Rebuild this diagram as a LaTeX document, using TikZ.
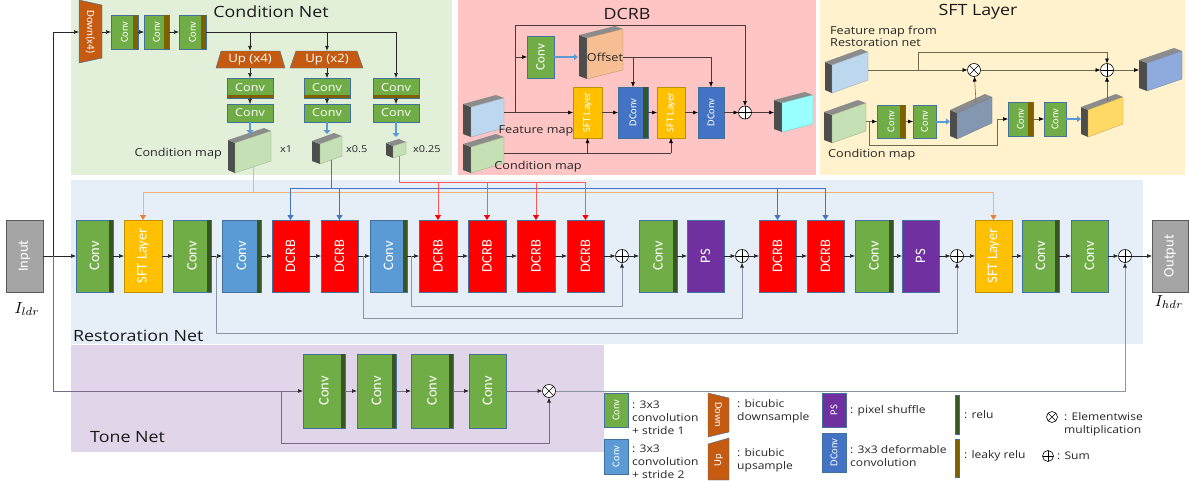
\documentclass[tikz,border=0pt]{standalone}
\usepackage{graphicx}
\usepackage{fontspec}
\setmainfont{Open Sans}[FakeStretch=1.15]
\newfontfamily\bxfont{Carlito}
\usetikzlibrary{arrows.meta}

\definecolor{cgreen}{HTML}{70AD47}
\definecolor{cblue}{HTML}{5B9BD5}
\definecolor{cred}{HTML}{FF0000}
\definecolor{cyel}{HTML}{FFC000}
\definecolor{cpur}{HTML}{7030A0}
\definecolor{cgray}{HTML}{A5A5A5}
\definecolor{cdblue}{HTML}{4472C4}
\definecolor{corange}{HTML}{C55A11}
\definecolor{crelu}{HTML}{375623}
\definecolor{cleaky}{HTML}{7F6000}
\definecolor{bdr}{HTML}{41719C}
\definecolor{bgcond}{HTML}{E2F0D9}
\definecolor{bgdcrb}{HTML}{FFC5C5}
\definecolor{bgsft}{HTML}{FFF2CC}
\definecolor{bgrest}{HTML}{E6EEF8}
\definecolor{bgtone}{HTML}{E1D5E9}
\definecolor{lnc}{HTML}{262626}
\definecolor{skipc}{HTML}{8A96A3}
\definecolor{tonec}{HTML}{7A6A8A}
\definecolor{oline}{HTML}{F4B183}
\definecolor{ohead}{HTML}{ED7D31}
\definecolor{bline}{HTML}{4472C4}
\definecolor{rline}{HTML}{FF5A5A}
\definecolor{slabside}{HTML}{4D4D4D}
\definecolor{slabtopc}{HTML}{8C8C8C}
\definecolor{fblue}{HTML}{BDD7EE}
\definecolor{fgreen}{HTML}{C5E0B4}
\definecolor{fcyan}{HTML}{99FFFF}
\definecolor{foff}{HTML}{F7BE93}
\definecolor{fsft}{HTML}{8FAADC}
\definecolor{fgb}{HTML}{8497B0}
\definecolor{fyel}{HTML}{FFD966}
\definecolor{arrblue}{HTML}{5B9BD5}
\definecolor{dlinec}{HTML}{4A3A3A}
\definecolor{slinec}{HTML}{6B6B50}

\tikzset{
  blk/.style={draw=bdr, line width=0.5pt, inner sep=0pt, outer sep=0pt, text=white,
    font=\bxfont\fontsize{14.5}{14.5}\selectfont},
  fsmall/.style={font=\bxfont\fontsize{10.5}{10.5}\selectfont},
  fmid/.style={font=\bxfont\fontsize{13}{13}\selectfont},
  arr/.style={draw=lnc, line width=0.6pt, -{Latex[length=5pt,width=4pt]}},
  plain/.style={draw=lnc, line width=0.6pt},
  skiparr/.style={draw=skipc, line width=0.8pt, -{Latex[length=5pt,width=4pt,color=lnc]}},
  tarr/.style={draw=tonec, line width=0.7pt, -{Latex[length=5pt,width=4pt,color=lnc]}},
  oarr/.style={draw=oline, line width=0.8pt, -{Triangle[length=5pt,width=6pt,color=ohead]}},
  barr/.style={draw=bline, line width=0.8pt, -{Triangle[length=5pt,width=6pt,color=bline]}},
  rarr/.style={draw=rline, line width=0.8pt, -{Triangle[length=5pt,width=6pt,color=cred]}},
  darr/.style={draw=dlinec, line width=0.6pt, -{Latex[length=5pt,width=4pt,color=black]}},
  dplain/.style={draw=dlinec, line width=0.6pt},
  sarr/.style={draw=slinec, line width=0.6pt, -{Latex[length=5pt,width=4pt,color=black]}},
  splain/.style={draw=slinec, line width=0.6pt},
  blockarr/.style={draw=arrblue, line width=2.6pt, -{Triangle[length=4pt,width=7pt]}},
  sumnode/.style={circle, draw=black, fill=white, line width=0.6pt, minimum size=13pt, inner sep=0pt, outer sep=0pt,
    path picture={\draw[line width=0.6pt] (path picture bounding box.north)--(path picture bounding box.south)
      (path picture bounding box.west)--(path picture bounding box.east);}},
  mulnode/.style={circle, draw=black, fill=white, line width=0.6pt, minimum size=13pt, inner sep=0pt, outer sep=0pt,
    path picture={\draw[line width=0.6pt] (path picture bounding box.north west)--(path picture bounding box.south east)
      (path picture bounding box.south west)--(path picture bounding box.north east);}},
  title/.style={font=\fontsize{15.5}{15.5}\selectfont, inner sep=0pt, text=black!90},
  lbl/.style={font=\fontsize{11}{11}\selectfont, inner sep=0pt, text=black!85},
  lgt/.style={font=\fontsize{10.5}{13}\selectfont, inner sep=0pt, align=left, anchor=west, text=black!85},
  trap/.style={fill=corange, draw=bdr, line width=0.4pt}
}

% name, xl, xr, yt, yb, options, text (rotated)
\newcommand\blkbox[7]{\node[blk,#6,minimum width={#3-#2},minimum height={#5-#4}] (#1) at ({(#2+#3)/2},{(#4+#5)/2}) {\rotatebox{90}{#7}};}
% name, xl, xr, yt, yb, options, text (horizontal)
\newcommand\hblkbox[7]{\node[blk,#6,minimum width={#3-#2},minimum height={#5-#4}] (#1) at ({(#2+#3)/2},{(#4+#5)/2}) {#7};}
% xl, ytl, w, h, skew, d, fill
\newcommand\myslab[7]{%
  \fill[slabside] ({#1},{#2}) -- ({#1},{#2+#4}) -- ({#1-#6},{#2+#4-3}) -- ({#1-#6},{#2-3}) -- cycle;
  \fill[slabtopc] ({#1},{#2}) -- ({#1+#3},{#2-#5}) -- ({#1+#3-#6},{#2-#5-3}) -- ({#1-#6},{#2-3}) -- cycle;
  \filldraw[fill=#7, draw=#7!75!black, line width=0.3pt] ({#1},{#2}) -- ({#1+#3},{#2-#5}) -- ({#1+#3},{#2-#5+#4}) -- ({#1},{#2+#4}) -- cycle;}
\newcommand\strip[5]{\fill[#5] ({#1},{#3}) rectangle ({#2},{#4});}

\begin{document}
\begin{tikzpicture}[x=1pt,y=-1pt]
\useasboundingbox (0,0) rectangle (1189,480);
\fill[white] (0,0) rectangle (1189,480);

% ---------- panels ----------
\fill[bgcond] (71,0) rectangle (452,175);
\fill[bgdcrb] (458,0) rectangle (816,175);
\fill[bgsft] (820,0) rectangle (1185,175);
\fill[bgrest] (71,180) rectangle (1143,344);
\fill[bgtone] (71,345) rectangle (604,452);

\node[title] at (271,12) {Condition Net};
\node[title] at (627,14) {DCRB};
\node[title] at (978,12) {SFT Layer};
\node[title, anchor=west] at (73,336) {Restoration Net};
\node[title, anchor=west] at (90,437) {Tone Net};

% ---------- restoration net ----------
\blkbox{inp}{6}{43}{220}{292}{fill=cgray,draw=gray!70!black}{Input}
\blkbox{c1}{76}{113}{220}{292}{fill=cgreen}{Conv}
\blkbox{sft1}{124}{162}{220}{292}{fill=cyel,draw=cyel!75!black}{SFT Layer}
\blkbox{c2}{173}{211}{220}{292}{fill=cgreen}{Conv}
\blkbox{c3}{222}{261}{220}{292}{fill=cblue}{Conv}
\blkbox{d1}{272}{309}{220}{292}{fill=cred}{DCRB}
\blkbox{d2}{321}{358}{220}{292}{fill=cred}{DCRB}
\blkbox{c4}{370}{407}{220}{292}{fill=cblue}{Conv}
\blkbox{d3}{419}{457}{220}{292}{fill=cred}{DCRB}
\blkbox{d4}{468}{506}{220}{292}{fill=cred}{DCRB}
\blkbox{d5}{517}{555}{220}{292}{fill=cred}{DCRB}
\blkbox{d6}{567}{604}{220}{292}{fill=cred}{DCRB}
\node[sumnode] (s1) at (622,256) {};
\blkbox{c5}{639}{677}{220}{292}{fill=cgreen}{Conv}
\blkbox{ps1}{687}{724}{220}{292}{fill=cpur}{PS}
\node[sumnode] (s2) at (742,256) {};
\blkbox{d7}{759}{796}{220}{292}{fill=cred}{DCRB}
\blkbox{d8}{807}{844}{220}{292}{fill=cred}{DCRB}
\blkbox{c6}{855}{893}{220}{292}{fill=cgreen}{Conv}
\blkbox{ps2}{902}{939}{220}{292}{fill=cpur}{PS}
\node[sumnode] (s3) at (957,256) {};
\blkbox{sft2}{975}{1012}{220}{292}{fill=cyel,draw=cyel!75!black}{SFT Layer}
\blkbox{c7}{1022}{1059}{220}{292}{fill=cgreen}{Conv}
\blkbox{c8}{1071}{1108}{220}{292}{fill=cgreen}{Conv}
\node[sumnode] (s4) at (1125,256) {};
\blkbox{outp}{1152}{1188}{220}{292}{fill=cgray,draw=gray!70!black}{Output}
\strip{109}{113}{220}{292}{crelu}
\strip{207}{211}{220}{292}{crelu}
\strip{257}{261}{220}{293}{crelu}
\strip{403}{407}{220}{292}{crelu}
\strip{673}{677}{220}{292}{crelu}
\strip{889}{893}{220}{292}{crelu}
\strip{1055}{1059}{220}{292}{crelu}

\node[inner sep=0pt] (ildr) at (27,309) {\scalebox{1.6}{$I_{ldr}$}};
\node[inner sep=0pt] (ihdr) at (1169,302) {\scalebox{1.6}{$I_{hdr}$}};

\foreach \a/\b in {inp/c1, c1/sft1, sft1/c2, c2/c3, c3/d1, d1/d2, d2/c4, c4/d3, d3/d4, d4/d5, d5/d6, d6/s1,
  s1/c5, c5/ps1, ps1/s2, s2/d7, d7/d8, d8/c6, c6/ps2, ps2/s3, s3/sft2, sft2/c7, c7/c8, c8/s4, s4/outp}
  \draw[arr] (\a) -- (\b);

% skip connections
\coordinate (k1) at (216,256);
\coordinate (k2) at (363,256);
\coordinate (k3) at (411,256);
\draw[skiparr] (k1) -- (216,333) -| (s3);
\draw[skiparr] (k2) -- (363,318) -| (s2);
\draw[skiparr] (k3) -- (411,306) -| (s1);

% ---------- condition net ----------
\draw[trap] (79,0) -- (102,5) -- (102,58) -- (79,63) -- cycle;
\node[inner sep=0pt, outer sep=0pt, minimum width=23, minimum height=64, text=white,
  font=\bxfont\fontsize{11}{11}\selectfont] (down) at (90.5,32) {\rotatebox{-90}{Down(x4)}};
\blkbox{cc1}{111}{138}{15}{49}{fill=cgreen,fsmall}{Conv}
\blkbox{cc2}{144}{169}{15}{49}{fill=cgreen,fsmall}{Conv}
\blkbox{cc3}{179}{206}{15}{49}{fill=cgreen,fsmall}{Conv}
\strip{133}{138}{15}{49}{cleaky}
\strip{164}{169}{15}{49}{cleaky}
\strip{201}{206}{15}{49}{cleaky}

\coordinate (jin) at (53,256);
\draw[arr] (jin) |- (down);
\draw[arr] (down) -- (cc1);
\draw[arr] (cc1) -- (cc2);
\draw[arr] (cc2) -- (cc3);
\coordinate (t1) at (250,32);
\coordinate (t2) at (327,32);
\coordinate (t3) at (396,32);
\draw[plain] (cc3) -- (t3);

\draw[trap] (221,51) -- (280,51) -- (285,68) -- (216,68) -- cycle;
\draw[trap] (296,51) -- (357,51) -- (363,68) -- (290,68) -- cycle;
\node[inner sep=0pt, minimum width=69, minimum height=17, text=white, font=\fontsize{11.5}{11.5}\selectfont] (up4) at (250,59.5) {Up (x4)};
\node[inner sep=0pt, minimum width=69, minimum height=17, text=white, font=\fontsize{11.5}{11.5}\selectfont] (up2) at (327,59.5) {Up (x2)};

\hblkbox{r1a}{227}{273}{78}{98}{fill=cgreen,font=\fontsize{11}{11}\selectfont}{Conv}
\hblkbox{r1b}{304}{350}{78}{98}{fill=cgreen,font=\fontsize{11}{11}\selectfont}{Conv}
\hblkbox{r1c}{373}{419}{78}{98}{fill=cgreen,font=\fontsize{11}{11}\selectfont}{Conv}
\strip{227}{273}{95}{98}{cleaky}
\strip{304}{350}{95}{98}{cleaky}
\strip{373}{419}{95}{98}{cleaky}
\hblkbox{r2a}{227}{273}{104}{122}{fill=cgreen,font=\fontsize{11}{11}\selectfont}{Conv}
\hblkbox{r2b}{304}{350}{104}{122}{fill=cgreen,font=\fontsize{11}{11}\selectfont}{Conv}
\hblkbox{r2c}{373}{419}{104}{122}{fill=cgreen,font=\fontsize{11}{11}\selectfont}{Conv}

\draw[arr] (t1) -- (up4);
\draw[arr] (t2) -- (up2);
\draw[arr] (t3) -- (r1c);
\draw[arr] (up4) -- (r1a);
\draw[arr] (up2) -- (r1b);
\draw[arr] (r1a) -- (r2a);
\draw[arr] (r1b) -- (r2b);
\draw[arr] (r1c) -- (r2c);

% condition maps
\myslab{235}{143}{36}{30}{12}{7}{fgreen}
\myslab{320}{144}{22}{20}{8}{8}{fgreen}
\myslab{393}{146}{13}{12}{4}{7}{fgreen}
\coordinate (m1t) at (250,134);
\coordinate (m2t) at (327,134);
\coordinate (m3t) at (396,137);
\draw[blockarr] (r2a) -- (m1t);
\draw[blockarr] (r2b) -- (m2t);
\draw[blockarr] (r2c) -- (m3t);
\node[lbl, anchor=east] at (222,154) {Condition map};
\node[lbl, anchor=west, font=\fontsize{9.5}{9.5}\selectfont] at (280,149) {x1};
\node[lbl, anchor=west, font=\fontsize{9.5}{9.5}\selectfont] at (346,149) {x0.5};
\node[lbl, anchor=west, font=\fontsize{9.5}{9.5}\selectfont] at (413,149) {x0.25};

% map connections to restoration net
\coordinate (m1b) at (253,167);
\coordinate (h1) at (253,192);
\coordinate (m2b) at (331,160);
\coordinate (h2) at (331,188);
\coordinate (m3b) at (399,156);
\coordinate (h3) at (399,182);
\draw[draw=oline, line width=0.8pt] (m1b) -- (h1);
\draw[oarr] (h1) -| (sft1);
\draw[oarr] (h1) -| (sft2);
\draw[draw=bline, line width=0.8pt] (m2b) -- (h2);
\draw[barr] (h2) -| (d1);
\draw[barr] (h2) -| (d2);
\draw[barr] (h2) -| (d7);
\draw[barr] (h2) -| (d8);
\draw[draw=rline, line width=0.8pt] (m3b) -- (h3);
\draw[rarr] (h3) -| (d3);
\draw[rarr] (h3) -| (d4);
\draw[rarr] (h3) -| (d5);
\draw[rarr] (h3) -| (d6);

% ---------- DCRB panel ----------
\blkbox{dconv}{527}{554}{36}{78}{fill=cgreen,fmid}{Conv}
\blkbox{sfta}{573}{602}{87}{138}{fill=cyel,draw=cyel!75!black,fsmall}{SFT Layer}
\blkbox{dc1}{618}{648}{87}{138}{fill=cdblue,fsmall}{DConv}
\strip{643}{648}{87}{138}{crelu}
\blkbox{sftb}{657}{685}{87}{138}{fill=cyel,draw=cyel!75!black,fsmall}{SFT Layer}
\blkbox{dc2}{698}{724}{87}{138}{fill=cdblue,fsmall}{DConv}
\node[sumnode] (sumd) at (745,112.5) {};

\myslab{471}{107}{33}{30}{9}{8}{fblue}
\myslab{471}{147}{33}{26}{10}{8}{fgreen}
\myslab{587}{38}{36}{41}{9}{8}{foff}
\myslab{782}{103}{31}{29}{8}{8}{fcyan}
\node[lbl] at (605,57) {Offset};
\node[lbl] at (536,131) {Feature map};
\node[lbl] at (538,167) {Condition map};

\coordinate (fmr) at (504,112.5);
\coordinate (jd) at (515,112.5);
\coordinate (jtop) at (515,25);
\coordinate (jc) at (515,57);
\coordinate (offl) at (578,57);
\coordinate (ofr) at (623,57);
\coordinate (o1) at (633,57);
\coordinate (o2) at (711,57);
\coordinate (dol) at (774,112.5);
\draw[darr] (fmr) -- (sfta);
\draw[darr] (jd) -- (jtop) -| (sumd);
\draw[darr] (jc) -- (dconv);
\draw[draw=arrblue, line width=2pt, -{Triangle[length=4pt,width=6pt]}] (dconv) -- (offl);
\draw[dplain] (ofr) -- (o2);
\draw[darr] (o1) -- (dc1);
\draw[darr] (o2) -- (dc2);
\draw[darr] (sfta) -- (dc1);
\draw[darr] (dc1) -- (sftb);
\draw[darr] (sftb) -- (dc2);
\draw[darr] (dc2) -- (sumd);
\draw[darr] (sumd) -- (dol);
\coordinate (cmr) at (504,153);
\coordinate (ca) at (587.5,153);
\coordinate (cb) at (671,153);
\draw[dplain] (cmr) -- (cb);
\draw[darr] (ca) -- (sfta);
\draw[darr] (cb) -- (sftb);

% ---------- SFT panel ----------
\node[lbl, anchor=west, align=left, font=\fontsize{11}{12}\selectfont] at (830,36) {Feature map from\\Restoration net};
\node[lbl, anchor=west] at (828,155) {Condition map};
\myslab{832}{65}{36}{28}{13}{7}{fblue}
\myslab{832}{115}{34}{28}{12}{8}{fgreen}
\myslab{957}{113}{35}{26}{16}{7}{fgb}
\myslab{1088}{110}{35}{27}{13}{7}{fyel}
\myslab{1147}{63}{35}{28}{12}{8}{fsft}
\node[mulnode] (smul) at (974,70) {};
\node[sumnode] (ssum) at (1107,70) {};
\blkbox{sc1}{877}{905}{105}{138}{fill=cgreen,fsmall}{Conv}
\strip{900}{905}{105}{138}{cleaky}
\blkbox{sc2}{913}{936}{105}{138}{fill=cgreen,fsmall}{Conv}
\blkbox{sc3}{1008}{1033}{102}{136}{fill=cgreen,fsmall}{Conv}
\strip{1028}{1033}{102}{136}{cleaky}
\blkbox{sc4}{1044}{1066}{102}{136}{fill=cgreen,fsmall}{Conv}

\coordinate (sfr) at (868,70);
\coordinate (sj) at (918,70);
\coordinate (sjt) at (918,52);
\coordinate (sol) at (1139,70);
\draw[sarr] (sfr) -- (smul);
\draw[sarr] (smul) -- (ssum);
\draw[sarr] (sj) -- (sjt) -| (ssum);
\draw[sarr] (ssum) -- (sol);
\coordinate (scr) at (866,121.5);
\coordinate (sk) at (869,121.5);
\coordinate (skb) at (869,145);
\coordinate (skr) at (997,145);
\coordinate (sku) at (997,119);
\draw[splain] (scr) -- (sk);
\draw[sarr] (sk) -- (sc1);
\draw[sarr] (sk) -- (skb) -- (skr) -- (sku) -- (sc3);
\draw[sarr] (sc1) -- (sc2);
\draw[sarr] (sc3) -- (sc4);
\coordinate (gsl) at (950,121.5);
\coordinate (ysl) at (1081,119);
\draw[draw=arrblue, line width=2pt, -{Triangle[length=4pt,width=6pt]}] (sc2) -- (gsl);
\draw[draw=arrblue, line width=2pt, -{Triangle[length=4pt,width=6pt]}] (sc4) -- (ysl);
\coordinate (gtop) at (976,102);
\coordinate (ytop) at (1107,101);
\draw[sarr] (gtop) -- (smul);
\draw[sarr] (ytop) -- (ssum);

% ---------- tone net ----------
\blkbox{t1}{303}{345}{354}{428}{fill=cgreen}{Conv}
\blkbox{t2}{357}{396}{354}{428}{fill=cgreen}{Conv}
\blkbox{t3}{411}{453}{354}{428}{fill=cgreen}{Conv}
\blkbox{t4}{469}{506}{354}{428}{fill=cgreen}{Conv}
\strip{341}{345}{354}{428}{crelu}
\strip{392}{396}{354}{428}{crelu}
\strip{449}{453}{354}{428}{crelu}
\node[mulnode] (tmul) at (549,391) {};
\draw[tarr] (jin) |- (t1);
\coordinate (tj) at (281,391);
\draw[tarr] (tj) -- (281,443) -| (tmul);
\draw[tarr] (t1) -- (t2);
\draw[tarr] (t2) -- (t3);
\draw[tarr] (t3) -- (t4);
\draw[tarr] (t4) -- (tmul);
\draw[skiparr] (tmul) -| (s4);

% ---------- legend ----------
\blkbox{lg1}{604}{628}{393}{427}{fill=cgreen,fsmall}{Conv}
\blkbox{lg2}{604}{628}{439}{474}{fill=cblue,fsmall}{Conv}
\node[lgt] at (632,418) {: 3x3\\convolution\\+ stride 1};
\node[lgt] at (632,462) {: 3x3\\convolution\\+ stride 2};
\draw[trap] (708,393) -- (729,398) -- (729,432) -- (708,437) -- cycle;
\node[inner sep=0pt, minimum width=21, minimum height=44, text=white, fsmall] (lg3) at (718.5,415) {\rotatebox{-90}{Down}};
\draw[trap] (708,444) -- (729,438) -- (729,480) -- (708,480) -- cycle;
\node[inner sep=0pt, minimum width=21, minimum height=40, text=white, fsmall] (lg4) at (718.5,460) {\rotatebox{90}{Up}};
\node[lgt] at (737,411) {: bicubic\\downsample};
\node[lgt] at (737,460) {: bicubic\\upsample};
\blkbox{lg5}{822}{846}{393}{427}{fill=cpur,fsmall}{PS}
\blkbox{lg6}{822}{846}{433}{472}{fill=cdblue,fsmall}{DConv}
\node[lgt] at (850,411) {: pixel shuffle};
\node[lgt] at (850,456) {: 3x3 deformable\\convolution};
\filldraw[fill=crelu, draw=bdr, line width=0.3pt] (955,395) rectangle (959,434);
\filldraw[fill=cleaky, draw=bdr, line width=0.3pt] (955,439) rectangle (959,477);
\node[lgt] at (964,415) {: relu};
\node[lgt] at (964,456) {: leaky relu};
\node[mulnode, minimum size=11pt] (lgm) at (1052,417) {};
\node[sumnode, minimum size=11pt] (lgs) at (1048,456) {};
\node[lgt] at (1064,424) {: Elementwise\\multiplication};
\node[lgt] at (1057,456) {: Sum};
\end{tikzpicture}
\end{document}
